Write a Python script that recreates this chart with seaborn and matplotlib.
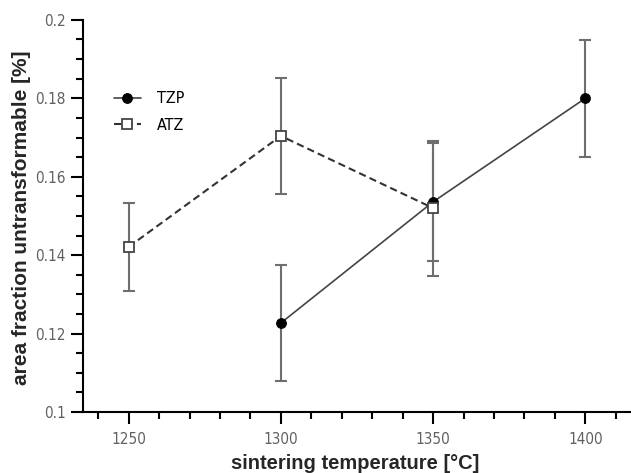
import numpy as np
import pandas as pd
import matplotlib
matplotlib.use('Agg')
import matplotlib.pyplot as plt
import seaborn as sns
from matplotlib.ticker import MultipleLocator

# values
tzp_temp = [1300, 1350, 1400]
tzp_mean = [0.1227, 0.1536, 0.1800]
tzp_err = [0.0149, 0.0151, 0.0149]

atz_temp = [1250, 1300, 1350]
atz_mean = [0.1421, 0.1704, 0.1520]
atz_err = [0.0112, 0.0149, 0.0172]

data = pd.concat([
    pd.DataFrame({'temp': tzp_temp, 'frac': tzp_mean, 'mat': 'TZP'}),
    pd.DataFrame({'temp': atz_temp, 'frac': atz_mean, 'mat': 'ATZ'}),
])

sns.set_style('ticks')
plt.rcParams['font.family'] = ['Liberation Sans', 'DejaVu Sans']

fig = plt.figure(figsize=(6.31, 4.73), dpi=100)
ax = fig.add_axes([0.1315, 0.129, 0.8685, 0.829])

# error bars first so the markers sit on top
ax.errorbar(tzp_temp, tzp_mean, yerr=tzp_err, fmt='none', ecolor='#6e6e6e',
            elinewidth=1.5, capsize=4, capthick=1.5, zorder=1)
ax.errorbar(atz_temp, atz_mean, yerr=atz_err, fmt='none', ecolor='#6e6e6e',
            elinewidth=1.5, capsize=4, capthick=1.5, zorder=1)

sns.lineplot(data=data, x='temp', y='frac', hue='mat', style='mat',
             palette={'TZP': '#444444', 'ATZ': '#333333'},
             markers={'TZP': 'o', 'ATZ': 's'},
             dashes={'TZP': '', 'ATZ': (3.5, 2)},
             linewidth=1.2, markersize=7, ax=ax, zorder=3)

# filled circles for TZP, open squares for ATZ
for line in ax.get_lines():
    if line.get_marker() == 'o':
        line.set_markerfacecolor('black')
        line.set_markeredgecolor('black')
    elif line.get_marker() == 's':
        line.set_markerfacecolor('white')
        line.set_markeredgecolor('#444444')
        line.set_markeredgewidth(1.3)
        line.set_linewidth(1.5)

ax.set_xlim(1235, 1415)
ax.set_ylim(0.1, 0.2)
ax.xaxis.set_major_locator(MultipleLocator(50))
ax.xaxis.set_minor_locator(MultipleLocator(10))
ax.yaxis.set_minor_locator(MultipleLocator(0.005))
ax.set_yticks([0.1, 0.12, 0.14, 0.16, 0.18, 0.2])
ax.set_yticklabels(['0.1', '0.12', '0.14', '0.16', '0.18', '0.2'])

sns.despine(ax=ax)
for sp in ['left', 'bottom']:
    ax.spines[sp].set_linewidth(1.5)
    ax.spines[sp].set_color('black')
ax.tick_params(which='major', length=8.5, width=1.5, color='black',
               labelsize=11, labelcolor='#606060', direction='out', pad=4)
ax.tick_params(axis='x', which='major', pad=6)
ax.tick_params(which='minor', length=5, width=1.5, color='black', direction='out')
for lab in ax.get_xticklabels() + ax.get_yticklabels():
    lab.set_fontfamily(['DejaVu Sans'])
    lab.set_fontstretch('condensed')
    lab.set_fontweight('light')

ax.set_xlabel('sintering temperature [°C]', fontsize=14.5, fontweight='bold')
ax.set_ylabel('area fraction untransformable [%]', fontsize=15, fontweight='bold')
ax.xaxis.set_label_coords(0.497, -0.106)
ax.yaxis.set_label_coords(-0.094, 0.495)

leg = ax.legend(loc='upper left', bbox_to_anchor=(0.03, 0.855), frameon=False,
                fontsize=11.5, handlelength=1.7, handletextpad=1.0,
                labelspacing=0.75, title=None)
for t in leg.get_texts():
    t.set_fontfamily(['DejaVu Sans'])
    t.set_fontstretch('condensed')
    t.set_color('black')

fig.savefig('out.png', dpi=100)
